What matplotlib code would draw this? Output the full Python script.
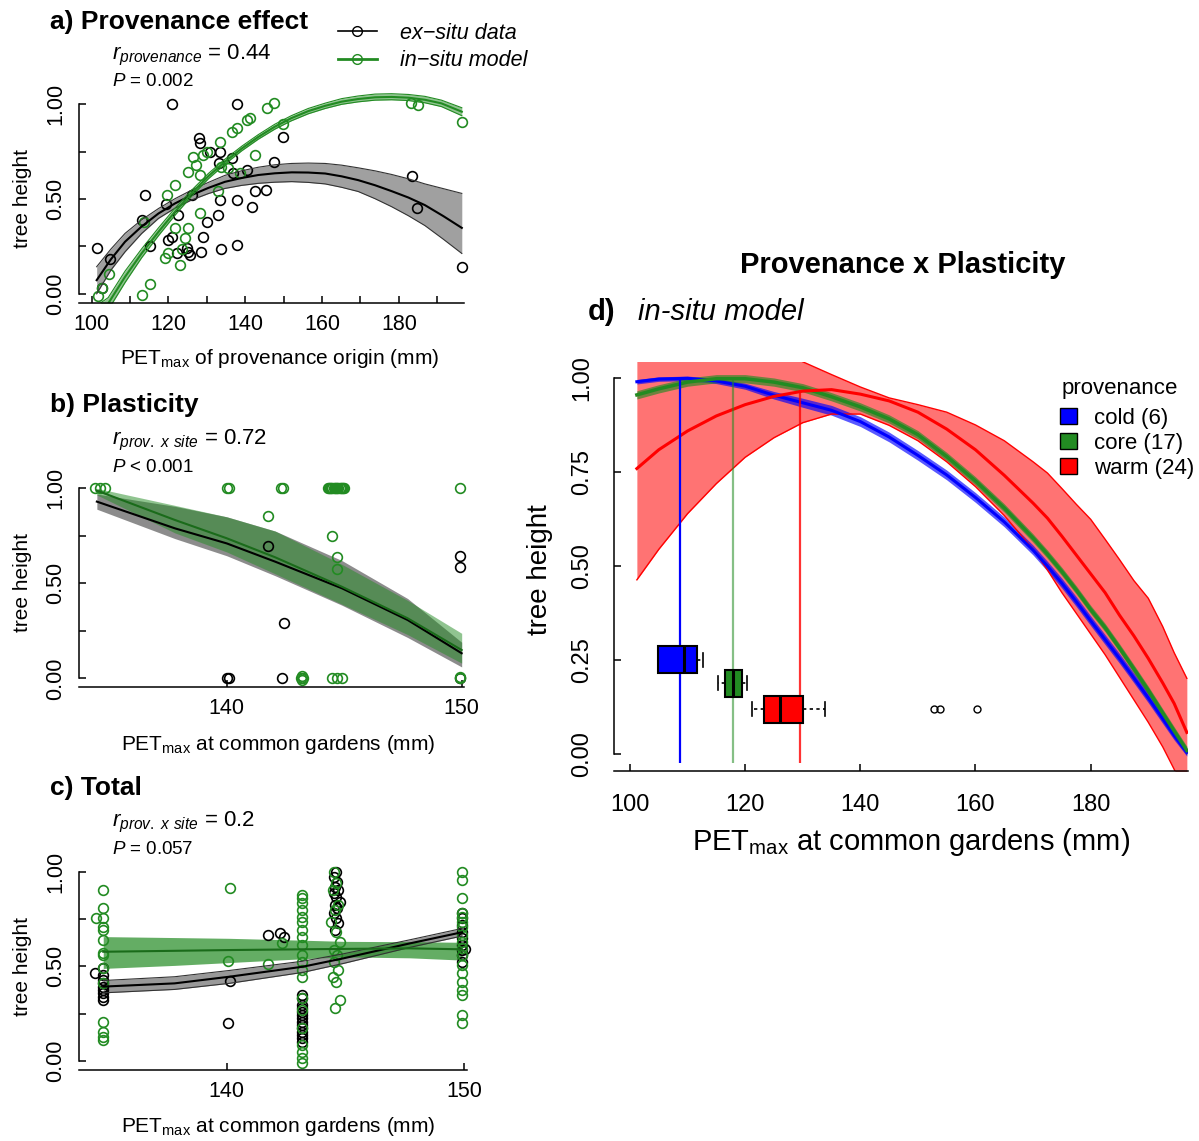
import matplotlib
matplotlib.use("Agg")
import matplotlib.pyplot as plt
from matplotlib.lines import Line2D
from matplotlib.patches import Patch

plt.rcParams["font.family"] = ["Liberation Sans", "DejaVu Sans"]
plt.rcParams["mathtext.fontset"] = "custom"
plt.rcParams["mathtext.rm"] = "Liberation Sans"
plt.rcParams["mathtext.it"] = "Liberation Sans:italic"
plt.rcParams["mathtext.bf"] = "Liberation Sans:bold"

W, H = 1199, 1141
GREEN = "#228B22"

# ---- panel a: provenance effect ----
a_black_x = [101.3, 102.8, 104.9, 113.9, 113.0, 115.2, 119.4, 121.0, 120.0, 121.0, 122.4, 122.1,
             124.7, 125.2, 125.6, 126.2, 127.9, 128.2, 128.5, 129.1, 130.0, 130.8, 133.0, 133.4,
             133.2, 133.4, 133.6, 136.5, 137.8, 137.8, 137.8, 136.9, 140.4, 141.7, 142.5, 145.3,
             147.4, 149.9, 183.5, 184.8, 196.4]
a_black_y = [0.243, 0.032, 0.183, 0.521, 0.392, 0.253, 0.472, 1.0, 0.283, 0.30, 0.415, 0.213,
             0.243, 0.222, 0.204, 0.521, 0.82, 0.794, 0.222, 0.30, 0.38, 0.75, 0.415, 0.495,
             0.688, 0.75, 0.239, 0.715, 0.495, 0.26, 1.0, 0.64, 0.653, 0.459, 0.542, 0.547,
             0.697, 0.829, 0.623, 0.454, 0.143]
a_green_x = [101.7, 102.6, 104.6, 113.0, 115.2, 113.5, 119.1, 120.0, 119.5, 121.7, 123.0, 123.4,
             124.3, 125.2, 125.2, 127.3, 128.2, 128.2, 129.1, 130.0, 133.0, 133.4, 133.6, 136.5,
             137.8, 138.6, 140.4, 141.2, 142.5, 145.6, 147.5, 149.9, 183.3, 185.1, 196.4, 121.7,
             126.5, 135.6]
a_green_y = [-0.01, 0.032, 0.107, -0.007, 0.051, 0.38, 0.187, 0.213, 0.524, 0.574, 0.151, 0.239,
             0.292, 0.345, 0.641, 0.679, 0.627, 0.424, 0.732, 0.75, 0.542, 0.803, 0.671, 0.855,
             0.873, 0.635, 0.917, 0.926, 0.732, 0.982, 1.005, 0.894, 1.005, 0.996, 0.908, 0.345,
             0.723, 0.662]

a_fit_x = [101.3, 105.0, 108.7, 113.0, 117.4, 121.7, 126.0, 130.4, 134.7, 139.0, 143.4, 147.7,
           152.1, 156.4, 160.8, 165.1, 169.4, 173.8, 178.1, 182.5, 186.8, 191.6, 196.4]
a_exsitu_fit = [0.072, 0.182, 0.275, 0.355, 0.424, 0.477, 0.521, 0.559, 0.591, 0.611, 0.627,
                0.636, 0.641, 0.640, 0.635, 0.620, 0.60, 0.573, 0.542, 0.508, 0.468, 0.41, 0.348]
a_exsitu_hi = [0.143, 0.236, 0.319, 0.39, 0.45, 0.502, 0.547, 0.588, 0.625, 0.649, 0.668, 0.681,
               0.688, 0.690, 0.688, 0.679, 0.665, 0.649, 0.63, 0.607, 0.58, 0.555, 0.53]
a_exsitu_lo = [0.0, 0.125, 0.222, 0.318, 0.398, 0.452, 0.495, 0.529, 0.556, 0.572, 0.583, 0.589,
               0.592, 0.588, 0.58, 0.562, 0.54, 0.502, 0.46, 0.412, 0.36, 0.288, 0.213]

a_mod_x = [101.5, 104.3, 108.7, 113.0, 117.4, 121.7, 126.0, 130.4, 134.7, 139.1, 143.4, 147.7,
           152.0, 156.4, 160.8, 165.1, 169.4, 173.8, 178.1, 182.5, 186.8, 191.1, 196.4]
a_insitu_fit = [-0.10, -0.051, 0.09, 0.213, 0.327, 0.433, 0.53, 0.621, 0.697, 0.767, 0.828,
                0.882, 0.927, 0.964, 0.992, 1.014, 1.028, 1.037, 1.039, 1.035, 1.024, 1.005, 0.961]
a_insitu_hi = [-0.06, -0.02, 0.12, 0.237, 0.348, 0.452, 0.546, 0.635, 0.71, 0.779, 0.84, 0.895,
               0.94, 0.978, 1.006, 1.03, 1.044, 1.054, 1.056, 1.052, 1.042, 1.022, 0.982]
a_insitu_lo = [-0.14, -0.085, 0.06, 0.19, 0.307, 0.415, 0.515, 0.607, 0.684, 0.755, 0.816,
               0.869, 0.913, 0.95, 0.978, 1.0, 1.013, 1.022, 1.024, 1.02, 1.008, 0.988, 0.94]

# ---- panel b: plasticity ----
b_green_x = [134.4, 134.6, 134.8, 140.0, 140.1, 142.3, 142.4,
             144.3, 144.35, 144.4, 144.45, 144.5, 144.55, 144.6, 144.65, 144.7, 144.75, 144.8,
             144.85, 144.9, 144.95, 145.0, 149.93,
             141.74, 144.5, 144.68, 144.68,
             143.15, 143.2, 143.25, 143.2, 144.47, 144.68, 144.9, 149.93, 149.95]
b_green_y = [1.0, 1.0, 1.0, 1.0, 1.0, 1.0, 1.0,
             1.0, 1.0, 1.0, 1.0, 1.0, 1.0, 1.0, 1.0, 1.0, 1.0, 1.0,
             1.0, 1.0, 1.0, 1.0, 1.0,
             0.854, 0.751, 0.64, 0.575,
             0.0, 0.01, 0.0, -0.01, 0.0, 0.0, 0.0, 0.0, 0.005]
b_black_x = [141.74, 142.44, 149.93, 149.93, 140.0, 140.1, 142.34, 149.93]
b_black_y = [0.696, 0.293, 0.646, 0.588, 0.0, 0.0, 0.0, 0.0]

b_fit_x = [134.47, 137.8, 140.0, 142.06, 144.9, 147.7, 150.0]
b_exsitu_fit = [0.93, 0.789, 0.71, 0.614, 0.474, 0.307, 0.132]
b_exsitu_hi = [0.97, 0.905, 0.85, 0.775, 0.62, 0.42, 0.19]
b_exsitu_lo = [0.89, 0.735, 0.645, 0.54, 0.385, 0.215, 0.06]
b_insitu_fit = [0.988, 0.833, 0.737, 0.637, 0.482, 0.316, 0.149]
b_insitu_hi = [1.0, 0.91, 0.85, 0.775, 0.6, 0.41, 0.237]
b_insitu_lo = [0.965, 0.765, 0.665, 0.55, 0.39, 0.23, 0.08]

# ---- panel c: total ----
c_green_x = ([134.8] * 14 + [134.5, 140.14, 140.07, 141.73, 142.32]
             + [143.17] * 20
             + [144.5, 144.6, 144.45, 144.7, 144.55, 144.4, 144.6, 144.75, 144.5, 144.65, 144.5,
                144.7, 144.45, 144.6, 144.75, 144.55]
             + [149.9] * 18)
c_green_y = ([0.903, 0.806, 0.754, 0.710, 0.692, 0.639, 0.569, 0.560, 0.489, 0.410, 0.208, 0.155,
              0.129, 0.111]
             + [0.754, 0.912, 0.528, 0.511, 0.621]
             + [0.877, 0.859, 0.833, 0.798, 0.762, 0.736, 0.692, 0.657, 0.613, 0.56, 0.525, 0.48,
                0.445, 0.331, 0.269, 0.173, 0.085, 0.049, 0.014, -0.012]
             + [1.0, 0.938, 0.903, 0.824, 0.798, 0.736, 0.683, 0.63, 0.586, 0.56, 0.525, 0.48,
                0.445, 0.419, 0.322, 0.278]
             + [1.0, 0.956, 0.859, 0.78, 0.762, 0.736, 0.71, 0.665, 0.63, 0.595, 0.56, 0.507,
                0.463, 0.419, 0.375, 0.349, 0.243, 0.199])
c_black_x = ([134.8] * 9 + [134.45, 140.14, 140.04, 141.73, 142.25, 142.39]
             + [143.17] * 14
             + [144.6, 144.5, 144.65, 144.55, 144.7, 144.5, 144.6, 144.75, 144.55, 144.65, 144.5,
                144.6, 144.7, 144.55]
             + [149.9] * 9 + [150.04])
c_black_y = ([0.489, 0.454, 0.428, 0.41, 0.393, 0.375, 0.357, 0.34, 0.322]
             + [0.463, 0.423, 0.199, 0.665, 0.674, 0.657]
             + [0.349, 0.331, 0.296, 0.278, 0.261, 0.243, 0.225, 0.208, 0.19, 0.173, 0.155, 0.137,
                0.12, 0.102]
             + [1.0, 0.974, 0.947, 0.921, 0.903, 0.886, 0.868, 0.842, 0.824, 0.806, 0.78, 0.754,
                0.727, 0.692]
             + [0.78, 0.754, 0.718, 0.683, 0.648, 0.613, 0.586, 0.56, 0.525, 0.59])

c_fit_x = [134.8, 137.8, 140.1, 143.2, 144.9, 147.7, 149.9]
c_exsitu_fit = [0.393, 0.41, 0.445, 0.498, 0.542, 0.621, 0.68]
c_exsitu_hi = [0.425, 0.445, 0.478, 0.527, 0.566, 0.64, 0.70]
c_exsitu_lo = [0.36, 0.378, 0.41, 0.468, 0.515, 0.6, 0.66]
c_insitu_fit = [0.577, 0.582, 0.586, 0.59, 0.592, 0.595, 0.59]
c_insitu_hi = [0.657, 0.652, 0.648, 0.638, 0.632, 0.63, 0.627]
c_insitu_lo = [0.489, 0.505, 0.52, 0.54, 0.55, 0.545, 0.533]

# ---- panel d: provenance x plasticity ----
d_x = [101.2, 105, 110, 115, 120, 125, 130, 135, 140, 145, 150, 155, 160, 165, 170, 172.5, 175,
       177.5, 180, 182.5, 185, 187.5, 190, 192.5, 194.5, 196.7]
d_cold = [0.991, 0.998, 1.0, 0.993, 0.979, 0.955, 0.935, 0.915, 0.885, 0.844, 0.795, 0.743,
          0.683, 0.618, 0.543, 0.50, 0.455, 0.406, 0.355, 0.305, 0.255, 0.203, 0.15, 0.095, 0.05,
          0.005]
d_cold_hi = [0.997, 1.004, 1.006, 1.0, 0.987, 0.965, 0.947, 0.928, 0.898, 0.857, 0.808, 0.756,
             0.696, 0.631, 0.556, 0.513, 0.468, 0.419, 0.368, 0.318, 0.268, 0.216, 0.163, 0.108,
             0.062, 0.015]
d_cold_lo = [0.985, 0.992, 0.994, 0.986, 0.971, 0.945, 0.923, 0.902, 0.872, 0.831, 0.782, 0.730,
             0.670, 0.605, 0.530, 0.487, 0.442, 0.393, 0.342, 0.292, 0.242, 0.190, 0.137, 0.082,
             0.038, -0.005]
d_core = [0.956, 0.972, 0.99, 0.999, 0.999, 0.99, 0.975, 0.951, 0.924, 0.892, 0.85, 0.792, 0.727,
          0.655, 0.575, 0.532, 0.486, 0.437, 0.385, 0.337, 0.283, 0.227, 0.17, 0.11, 0.062, 0.01]
d_core_hi = [0.967, 0.983, 1.001, 1.01, 1.01, 1.001, 0.986, 0.962, 0.935, 0.903, 0.861, 0.803,
             0.738, 0.666, 0.586, 0.543, 0.497, 0.448, 0.396, 0.348, 0.294, 0.238, 0.181, 0.121,
             0.073, 0.021]
d_core_lo = [0.945, 0.961, 0.979, 0.988, 0.988, 0.979, 0.964, 0.940, 0.913, 0.881, 0.839, 0.781,
             0.716, 0.644, 0.564, 0.521, 0.475, 0.426, 0.374, 0.326, 0.272, 0.216, 0.159, 0.099,
             0.051, -0.001]
d_warm = [0.76, 0.81, 0.86, 0.9, 0.93, 0.952, 0.966, 0.97, 0.958, 0.94, 0.91, 0.865, 0.81, 0.742,
          0.668, 0.628, 0.58, 0.53, 0.48, 0.43, 0.37, 0.315, 0.255, 0.19, 0.135, 0.058]
d_warm_hi = [1.1, 1.1, 1.1, 1.1, 1.1, 1.1, 1.044, 1.01, 0.977, 0.948, 0.93, 0.91, 0.876, 0.834,
             0.778, 0.748, 0.707, 0.665, 0.625, 0.572, 0.518, 0.462, 0.415, 0.34, 0.27, 0.202]
d_warm_lo = [0.464, 0.545, 0.64, 0.72, 0.79, 0.842, 0.882, 0.905, 0.905, 0.875, 0.834, 0.778,
             0.712, 0.635, 0.545, 0.49, 0.43, 0.375, 0.32, 0.265, 0.205, 0.145, 0.085, 0.02,
             -0.04, -0.12]

prov_names = ["cold (6)", "core (17)", "warm (24)"]
prov_colors = ["#0000FF", GREEN, "#FF0000"]
prov_optimum = [108.7, 117.9, 129.5]
prov_opt_height = [1.0, 1.0, 0.968]
box_pos = [0.251, 0.189, 0.12]
box_q1 = [104.8, 116.5, 123.2]
box_med = [109.3, 117.9, 126.0]
box_q3 = [111.7, 119.5, 130.0]
box_lo = [104.8, 115.3, 121.2]
box_hi = [112.6, 120.4, 133.8]
box_out = [[], [], [152.8, 153.9, 160.2]]

fig = plt.figure(figsize=(W / 100, H / 100), dpi=100)


def px_axes(left, top, right, bottom):
    return fig.add_axes([left / W, 1 - bottom / H, (right - left) / W, (bottom - top) / H])


def ftext(x, y, s, **kw):
    fig.text(x / W, 1 - y / H, s, **kw)


def style(ax, size, padx, pady, ylabels, xlab, xlab_pos, ylab_pos, lab_size, xbounds=None):
    for s in ("top", "right"):
        ax.spines[s].set_visible(False)
    for s in ("left", "bottom"):
        ax.spines[s].set_linewidth(1.1)
    ax.spines["left"].set_bounds(0, 1)
    if xbounds:
        ax.spines["bottom"].set_bounds(*xbounds)
    ax.set_yticks([0, 0.25, 0.5, 0.75, 1.0], ylabels, rotation=90, va="center")
    ax.tick_params(direction="in", length=5, width=1.1, labelsize=size)
    ax.tick_params(axis="x", pad=padx)
    ax.tick_params(axis="y", pad=pady)
    ax.set_xlabel(xlab, fontsize=lab_size, va="center")
    ax.xaxis.set_label_coords(xlab_pos[0] / W, 1 - xlab_pos[1] / H, transform=fig.transFigure)
    ax.set_ylabel("tree height", fontsize=lab_size, va="center")
    ax.yaxis.set_label_coords(ylab_pos[0] / W, 1 - ylab_pos[1] / H, transform=fig.transFigure)


def band(ax, x, lo, hi, fit, fill, alpha, line, edge=None):
    ax.fill_between(x, lo, hi, color=fill, alpha=alpha, lw=0)
    if edge:
        ax.plot(x, lo, color=edge, lw=0.8)
        ax.plot(x, hi, color=edge, lw=0.8)
    ax.plot(x, fit, color=line, lw=1.5)


left_y = ["0.00", "", "0.50", "", "1.00"]
pet_lab = r"PET$_{\mathregular{max}}$ at common gardens (mm)"
circ = dict(ls="none", marker="o", mfc="none", ms=7, mew=1.2)
TICK, LAB = 15.5, 15

# panel a
ax_a = px_axes(79, 92, 476, 303.3)
ax_a.plot(a_black_x, a_black_y, mec="black", **circ)
ax_a.plot(a_green_x, a_green_y, mec=GREEN, **circ)
band(ax_a, a_fit_x, a_exsitu_lo, a_exsitu_hi, a_exsitu_fit, "#808080", 0.75, "black", "#333333")
band(ax_a, a_mod_x, a_insitu_lo, a_insitu_hi, a_insitu_fit, GREEN, 0.5, GREEN, GREEN)
ax_a.set_xlim(96.7, 200.1)
ax_a.set_ylim(-0.05, 1.065)
ax_a.set_xticks(range(100, 200, 10), ["100", "", "120", "", "140", "", "160", "", "180", ""])
style(ax_a, TICK, 8, 9, left_y, r"PET$_{\mathregular{max}}$ of provenance origin (mm)",
      (280, 358), (23, 199), LAB, (96.7, 196.9))

# panel b
ax_b = px_axes(79, 480.7, 476, 686.7)
ax_b.plot(b_black_x, b_black_y, mec="black", **circ)
ax_b.plot(b_green_x, b_green_y, mec=GREEN, **circ)
band(ax_b, b_fit_x, b_exsitu_lo, b_exsitu_hi, b_exsitu_fit, "#707070", 0.8, "black")
band(ax_b, b_fit_x, b_insitu_lo, b_insitu_hi, b_insitu_fit, GREEN, 0.5, "#1a6b1a")
ax_b.set_xlim(133.71, 150.61)
ax_b.set_ylim(-0.044, 1.04)
ax_b.set_xticks([140, 150], ["140", "150"])
style(ax_b, TICK, 8, 9, left_y, pet_lab, (278, 744), (23, 583), LAB, (133.71, 150.1))

# panel c
ax_c = px_axes(79, 864.1, 476, 1069.9)
ax_c.plot(c_black_x, c_black_y, mec="black", **circ)
ax_c.plot(c_green_x, c_green_y, mec=GREEN, **circ)
band(ax_c, c_fit_x, c_exsitu_lo, c_exsitu_hi, c_exsitu_fit, "#808080", 0.8, "black", "#333333")
band(ax_c, c_fit_x, c_insitu_lo, c_insitu_hi, c_insitu_fit, GREEN, 0.7, "#1a6b1a")
ax_c.set_xlim(133.78, 150.49)
ax_c.set_ylim(-0.047, 1.04)
ax_c.set_xticks([140, 150], ["140", "150"])
style(ax_c, TICK, 8, 9, left_y, pet_lab, (278, 1127), (23, 966), LAB, (133.78, 150.1))

# panel d
ax_d = px_axes(614, 361.8, 1188, 770.8)
ax_d.fill_between(d_x, d_warm_lo, d_warm_hi, color="#FF0000", alpha=0.55, lw=0)
ax_d.plot(d_x, d_warm_lo, color="#FF0000", lw=1)
ax_d.plot(d_x, d_warm_hi, color="#FF0000", lw=1)
ax_d.fill_between(d_x, d_cold_lo, d_cold_hi, color="#0000FF", alpha=0.65, lw=0)
ax_d.plot(d_x, d_cold, color="#0000FF", lw=2.2)
ax_d.fill_between(d_x, d_core_lo, d_core_hi, color=GREEN, alpha=0.65, lw=0)
ax_d.plot(d_x, d_core, color=GREEN, lw=2.5)
ax_d.plot(d_x, d_warm, color="#FF0000", lw=2.2)
for xo, yo, col, al in zip(prov_optimum, prov_opt_height, prov_colors, [1.0, 0.55, 0.8]):
    ax_d.vlines(xo, -0.024, yo, colors=col, lw=1.6, alpha=al)

stats = []
for i in range(3):
    stats.append(dict(med=box_med[i], q1=box_q1[i], q3=box_q3[i], whislo=box_lo[i],
                      whishi=box_hi[i], fliers=box_out[i]))
bp = ax_d.bxp(stats, positions=box_pos, widths=0.072, orientation="horizontal",
              patch_artist=True, manage_ticks=False,
              boxprops=dict(edgecolor="black", lw=1.5),
              medianprops=dict(color="black", lw=2.2),
              whiskerprops=dict(color="black", lw=1.2, ls=(0, (2, 2))),
              capprops=dict(color="black", lw=1.2),
              flierprops=dict(marker="o", mfc="none", mec="black", ms=5, mew=1))
for patch, col in zip(bp["boxes"], prov_colors):
    patch.set_facecolor(col)

ax_d.set_xlim(97.23, 196.9)
ax_d.set_ylim(-0.044, 1.044)
ax_d.set_xticks([100, 120, 140, 160, 180])
style(ax_d, 17, 17, 15, ["0.00", "0.25", "0.50", "0.75", "1.00"], pet_lab,
      (911, 842), (540, 570), 20)
ax_d.xaxis.label.set_fontsize(21)

ftext(1120, 388, "provenance", fontsize=16, ha="center", va="center")
ax_d.legend([Patch(facecolor=c, edgecolor="black") for c in prov_colors], prov_names,
            loc="upper left", bbox_to_anchor=(1060 / W, 1 - 408 / H),
            bbox_transform=fig.transFigure, frameon=False, fontsize=16,
            handlelength=0.75, handleheight=0.75, handletextpad=0.8, labelspacing=0.17,
            borderpad=0, borderaxespad=0)

# panel a legend
fig.legend([Line2D([], [], color="black", marker="o", mfc="none", ms=7, lw=1.2),
            Line2D([], [], color=GREEN, marker="o", mfc="none", ms=7, lw=2)],
           ["ex\u2212situ data", "in\u2212situ model"],
           loc="center left", bbox_to_anchor=(338 / W, 1 - 47 / H), frameon=False,
           prop={"style": "italic", "size": 15.5}, handlelength=1.8, handletextpad=1.1,
           labelspacing=0.3, borderpad=0, borderaxespad=0)

# titles and annotations
ftext(50, 22, "a) Provenance effect", fontsize=19, fontweight="bold", va="center")
ftext(112, 55, r"$r_{provenance}$ = 0.44", fontsize=16, va="center")
ftext(112, 82, r"$P$ = 0.002", fontsize=13.5, va="center")
ftext(50, 405, "b) Plasticity", fontsize=19, fontweight="bold", va="center")
ftext(112, 440, r"$r_{prov.\ x\ site}$ = 0.72", fontsize=16, va="center")
ftext(112, 467, r"$P$ < 0.001", fontsize=13.5, va="center")
ftext(50, 788, "c) Total", fontsize=19, fontweight="bold", va="center")
ftext(112, 822, r"$r_{prov.\ x\ site}$ = 0.2", fontsize=16, va="center")
ftext(112, 850, r"$P$ = 0.057", fontsize=13.5, va="center")
ftext(903, 265, "Provenance x Plasticity", fontsize=21, fontweight="bold", ha="center",
      va="center")
ftext(588, 312, "d)", fontsize=21, fontweight="bold", va="center")
ftext(638, 312, "in-situ model", fontsize=21, style="italic", va="center")

fig.savefig("out.png", dpi=100)
